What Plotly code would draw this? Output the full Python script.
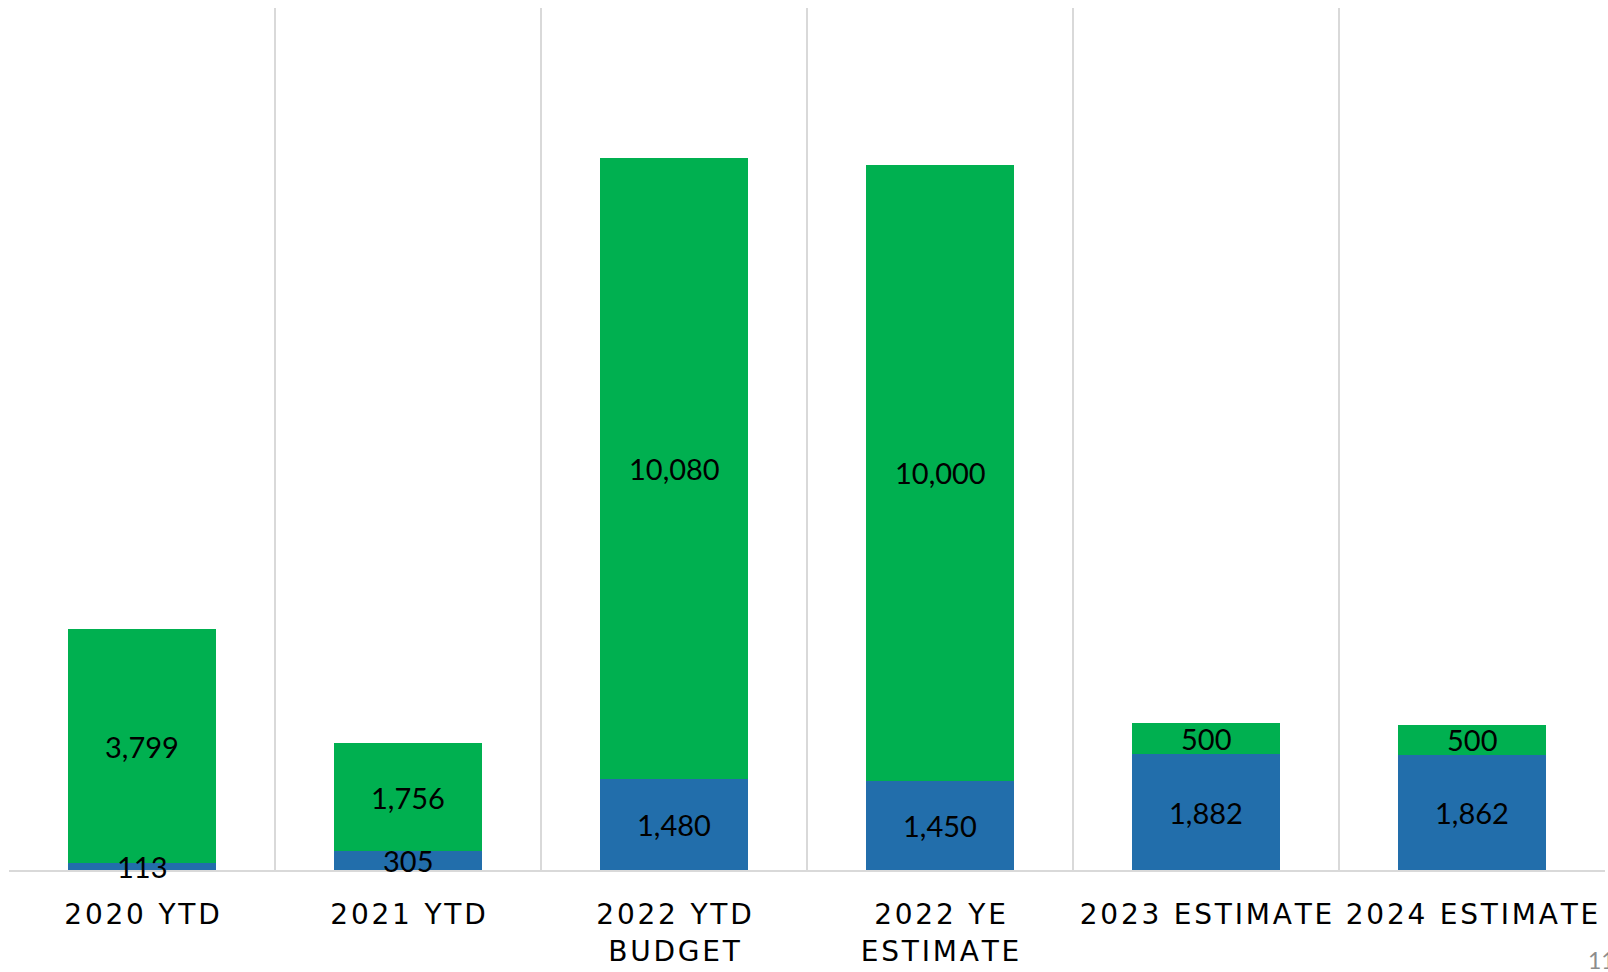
import plotly.graph_objects as go

# Categories and series values
categories = [
    "2020 YTD",
    "2021 YTD",
    "2022 YTD<br>BUDGET",
    "2022 YE<br>ESTIMATE",
    "2023 ESTIMATE",
    "2024 ESTIMATE",
]
base_values = [113, 305, 1480, 1450, 1882, 1862]
extra_values = [3799, 1756, 10080, 10000, 500, 500]
page_number = "11"

BLUE = "#226EAB"
GREEN = "#00B050"
GRID = "#D9D9D9"

W, H = 1608, 972
M_L, M_R, M_T, M_B = 9, 3, 8, 102

label_font = dict(family="Lato, Carlito, sans-serif", size=29, color="#000000")


def spaced(label):
    # widen the category captions with hair spaces between characters
    return "<br>".join("\u200a".join(line) for line in label.split("<br>"))


fig = go.Figure()
for vals, color in ((base_values, BLUE), (extra_values, GREEN)):
    fig.add_trace(go.Bar(
        x=categories,
        y=vals,
        marker=dict(color=color, line=dict(width=0)),
        hoverinfo="skip",
    ))

# Value labels centred on each stacked segment, drawn above all bars
for cat, b, e in zip(categories, base_values, extra_values):
    for bottom, val in ((0, b), (b, e)):
        fig.add_annotation(
            x=cat, y=bottom + val / 2,
            xref="x", yref="y",
            text=f"{val:,}",
            showarrow=False,
            xanchor="center", yanchor="middle",
            font=label_font,
        )

fig.update_layout(
    width=W,
    height=H,
    barmode="stack",
    bargap=0.44,
    showlegend=False,
    plot_bgcolor="white",
    paper_bgcolor="white",
    margin=dict(l=M_L, r=M_R, t=M_T, b=M_B, autoexpand=False),
)

fig.update_xaxes(
    type="category",
    tickson="boundaries",
    showgrid=True,
    gridcolor=GRID,
    gridwidth=1.5,
    showline=True,
    linecolor=GRID,
    linewidth=1.5,
    ticks="",
    tickmode="array",
    tickvals=categories,
    ticktext=[spaced(c) for c in categories],
    tickangle=0,
    ticklabelstandoff=19,
    tickfont=dict(family="DejaVu Sans, sans-serif", size=28, color="#000000"),
    range=[-0.5, 5.5],
    automargin=False,
    fixedrange=True,
)
fig.update_yaxes(
    range=[0, 14000],
    showgrid=False,
    zeroline=False,
    showticklabels=False,
    showline=False,
    automargin=False,
    fixedrange=True,
)

# Slide page number in the lower right corner
plot_w = W - M_L - M_R
plot_h = H - M_T - M_B
fig.add_annotation(
    text=page_number,
    xref="paper", yref="paper",
    x=(1586 - M_L) / plot_w,
    y=-(944 - (H - M_B)) / plot_h,
    xanchor="left", yanchor="top",
    showarrow=False,
    font=dict(family="Lato, sans-serif", size=23, color="#8C8C8C"),
)

fig.write_html("out.html")
